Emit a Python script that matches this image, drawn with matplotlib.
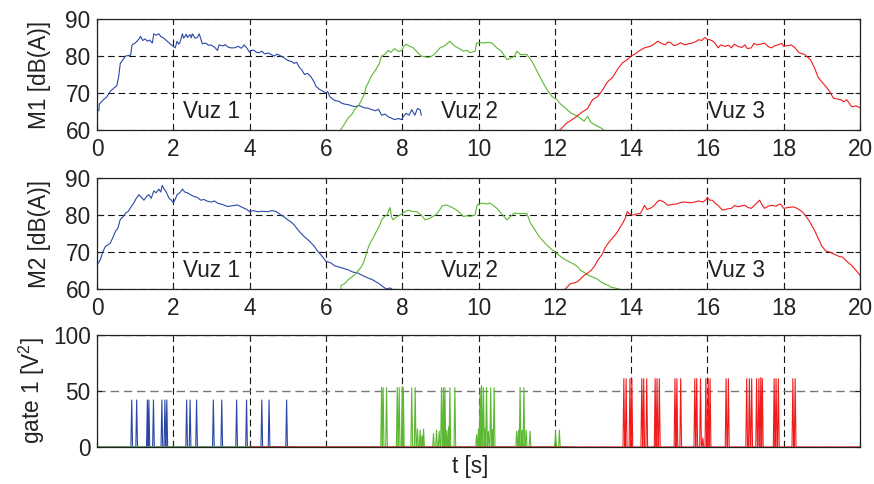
import numpy as np
import matplotlib
matplotlib.use("Agg")
import matplotlib.pyplot as plt

plt.rcParams['font.family'] = ['Liberation Sans', 'DejaVu Sans']
plt.rcParams['mathtext.fontset'] = 'custom'
plt.rcParams['mathtext.rm'] = 'Liberation Sans'
plt.rcParams['mathtext.it'] = 'Liberation Sans'

# ---------------- data (t [s], level) ----------------
m1_vuz1 = [(0, 65), (0.05, 65.3), (0.06, 67), (0.15, 68), (0.26, 69), (0.35, 70.5), (0.44, 71.3), (0.52, 72),
           (0.57, 74.5), (0.61, 78), (0.68, 79), (0.75, 80), (0.88, 80.2), (0.92, 83), (1.0, 83.5), (1.05, 84),
           (1.1, 84.6), (1.14, 85.3), (1.2, 84.2), (1.26, 84.6), (1.32, 84), (1.38, 84.3), (1.45, 83.5),
           (1.49, 86), (1.55, 85.6), (1.62, 86), (1.67, 85.3), (1.75, 84.8), (1.84, 84), (1.95, 83), (2.0, 82.6),
           (2.05, 82.2), (2.1, 84), (2.14, 83.2), (2.17, 83.5), (2.24, 86), (2.27, 84.8), (2.3, 85.2), (2.34, 85.9),
           (2.37, 85), (2.44, 85.8), (2.47, 84.9), (2.5, 86), (2.57, 84.8), (2.63, 85), (2.68, 86), (2.76, 83.3),
           (2.85, 83.5), (2.92, 82.9), (2.98, 83), (3.08, 82.4), (3.16, 81.5), (3.2, 83), (3.3, 82.7),
           (3.36, 83.1), (3.42, 82.5), (3.5, 82.2), (3.6, 82.2), (3.7, 82.6), (3.78, 82.1), (3.86, 83),
           (3.93, 82.1), (4.0, 81), (4.06, 81.6), (4.12, 81.5), (4.18, 81), (4.25, 80.9), (4.32, 81.3),
           (4.39, 80.6), (4.5, 80.8), (4.58, 80.3), (4.65, 80), (4.72, 80.5), (4.82, 80), (4.9, 79.5), (5.0, 78.8),
           (5.1, 78.5), (5.17, 78), (5.23, 78.3), (5.3, 77), (5.37, 76.2), (5.44, 75), (5.52, 75.3), (5.6, 74.5),
           (5.68, 73.2), (5.74, 71.8), (5.83, 71), (5.9, 70.6), (6.0, 70), (6.05, 70.4), (6.1, 69), (6.23, 68),
           (6.35, 67.7), (6.42, 67.2), (6.49, 67), (6.6, 66.8), (6.75, 66.3), (6.88, 66.6), (7.0, 66),
           (7.1, 65.9), (7.2, 65.5), (7.3, 65.2), (7.38, 65.6), (7.46, 64), (7.55, 64.3), (7.63, 63.6),
           (7.72, 63.2), (7.8, 62.8), (7.9, 63.1), (7.98, 62.8), (8.02, 63.5), (8.1, 64.5), (8.18, 64),
           (8.25, 65.5), (8.33, 64), (8.4, 65.8), (8.47, 65.5), (8.5, 64)]

m1_vuz2 = [(6.36, 59.7), (6.45, 61), (6.58, 63.2), (6.68, 64.2), (6.75, 65.5), (6.85, 66.5), (6.93, 68), (7.0, 69.5),
           (7.06, 71.8), (7.12, 73), (7.19, 74.5), (7.32, 76.5), (7.4, 78), (7.46, 80), (7.55, 80.5), (7.63, 81.5),
           (7.7, 81), (7.8, 82), (7.9, 81.2), (7.98, 81.5), (8.04, 82.5), (8.1, 83.2), (8.2, 82.6), (8.28, 82.3),
           (8.4, 81), (8.5, 80), (8.6, 79.8), (8.68, 79.6), (8.78, 80), (8.86, 80.6), (8.99, 82.2), (9.12, 82.8),
           (9.25, 84), (9.32, 83.2), (9.39, 82.6), (9.5, 82), (9.6, 81.3), (9.7, 81.5), (9.78, 80.9), (9.91, 81.3),
           (9.95, 83.5), (10.05, 83.6), (10.13, 83.5), (10.25, 83.7), (10.35, 83.5), (10.48, 82.2), (10.6, 81.3),
           (10.68, 80), (10.75, 79), (10.88, 79.6), (10.95, 80), (11.0, 81.3), (11.1, 80.4), (11.27, 80.4),
           (11.4, 78.6), (11.53, 76), (11.66, 73.4), (11.8, 70.8), (11.93, 69), (12.06, 68.2), (12.15, 67),
           (12.24, 66.3), (12.42, 64.6), (12.6, 63.7), (12.77, 62.4), (12.86, 63.7), (12.95, 62), (13.12, 61),
           (13.22, 60.5), (13.3, 59.8)]

m1_vuz3 = [(11.98, 59.8), (12.14, 60), (12.3, 61.8), (12.5, 63.1), (12.68, 64.6), (12.86, 65.8), (12.99, 68.2),
           (13.12, 69), (13.25, 70.8), (13.38, 73), (13.52, 74.3), (13.65, 76.5), (13.78, 78.2), (13.9, 79),
           (14.0, 80), (14.1, 80.5), (14.2, 81.3), (14.35, 82.2), (14.5, 82.6), (14.6, 83.2), (14.7, 84),
           (14.8, 83.4), (14.9, 83), (14.97, 83.8), (15.05, 83.5), (15.12, 82.8), (15.2, 83), (15.3, 83.6),
           (15.4, 83), (15.5, 83.3), (15.6, 83.5), (15.7, 83.9), (15.77, 84.4), (15.85, 84.2), (15.93, 85),
           (16.0, 84.5), (16.06, 84.4), (16.13, 84.1), (16.2, 83.5), (16.28, 82.2), (16.35, 83), (16.46, 82.6),
           (16.55, 82.9), (16.63, 82.2), (16.7, 83.2), (16.8, 82.6), (16.9, 82.3), (16.98, 83), (17.05, 82),
           (17.15, 82.2), (17.22, 83.4), (17.3, 83), (17.4, 83.2), (17.5, 83.5), (17.6, 82.5), (17.68, 82.2),
           (17.77, 82.8), (17.85, 83), (17.95, 83.4), (18.0, 82.6), (18.1, 82.8), (18.2, 83), (18.3, 82.2),
           (18.4, 80.9), (18.55, 80.4), (18.7, 79), (18.8, 77), (18.9, 74.3), (19.0, 73), (19.1, 71.8),
           (19.2, 70.5), (19.3, 68.6), (19.4, 68.4), (19.5, 68.2), (19.58, 67.6), (19.65, 68.2), (19.78, 66.3),
           (19.9, 66.5), (20.0, 66)]

m2_vuz1 = [(0, 66.5), (0.09, 68), (0.15, 70), (0.22, 71.5), (0.3, 72), (0.35, 72.4), (0.42, 74), (0.48, 75.5),
           (0.55, 76.5), (0.61, 78.8), (0.68, 79.5), (0.75, 80.5), (0.82, 81), (0.88, 82), (0.96, 83.2),
           (1.03, 84.5), (1.1, 85.5), (1.16, 84.8), (1.23, 84), (1.3, 85), (1.36, 85.5), (1.42, 84.5),
           (1.49, 86.5), (1.55, 86), (1.62, 87), (1.67, 86.2), (1.71, 88), (1.76, 87), (1.8, 86.5), (1.89, 84.5),
           (1.95, 84), (2.0, 83.3), (2.05, 84.2), (2.1, 85.5), (2.17, 86), (2.24, 87), (2.3, 86.2), (2.37, 86),
           (2.45, 85.5), (2.54, 85), (2.62, 84.8), (2.72, 84), (2.8, 84.2), (2.9, 83.7), (3.0, 83.5), (3.08, 83.8),
           (3.16, 83.2), (3.3, 82.8), (3.42, 82.3), (3.55, 82.5), (3.68, 82.7), (3.78, 82.2), (3.86, 81.8),
           (3.93, 81.5), (4.0, 80.9), (4.1, 81.2), (4.2, 80.9), (4.35, 81), (4.47, 80.9), (4.6, 81.2), (4.7, 80.9),
           (4.76, 80.5), (4.82, 80), (4.9, 79.5), (5.0, 78.7), (5.1, 78), (5.17, 77.3), (5.25, 76.2), (5.35, 75),
           (5.45, 74), (5.53, 73.3), (5.62, 72.4), (5.7, 71.5), (5.77, 70.4), (5.83, 69.7), (5.92, 68.6),
           (6.0, 67.5), (6.07, 67.3), (6.14, 67), (6.22, 66.3), (6.32, 66), (6.45, 65.6), (6.58, 65.2),
           (6.7, 64.6), (6.84, 64.3), (6.95, 63.7), (7.1, 63), (7.22, 62.5), (7.37, 61.6), (7.45, 61),
           (7.54, 60.3), (7.6, 60), (7.68, 60.3), (7.76, 59.8), (7.85, 59.4)]

m2_vuz2 = [(6.39, 59.8), (6.4, 61), (6.5, 61.5), (6.58, 62.5), (6.65, 63), (6.75, 63.8), (6.85, 65), (6.93, 66),
           (7.0, 67.5), (7.06, 69.6), (7.12, 71.5), (7.19, 73), (7.25, 74), (7.32, 75.5), (7.4, 77), (7.46, 78.7),
           (7.53, 79.5), (7.6, 80), (7.68, 82), (7.72, 79.5), (7.76, 78.7), (7.85, 79.5), (7.94, 80), (8.05, 80.8),
           (8.16, 81.3), (8.25, 81), (8.38, 80.9), (8.5, 80), (8.6, 78.7), (8.7, 79), (8.8, 79.6), (8.9, 80.2),
           (8.99, 81.5), (9.05, 82.5), (9.17, 82.7), (9.25, 82.3), (9.35, 81.8), (9.43, 81.3), (9.52, 80.5),
           (9.6, 79.6), (9.7, 79.8), (9.78, 79.6), (9.91, 80), (9.96, 82.5), (10.0, 83), (10.1, 83.2),
           (10.22, 83), (10.3, 83.2), (10.4, 82.5), (10.48, 81.8), (10.6, 80.4), (10.68, 79.5), (10.75, 78.7),
           (10.82, 79.4), (10.88, 80), (10.95, 80.6), (11.0, 80.4), (11.1, 80.4), (11.27, 80.4), (11.36, 77.8),
           (11.45, 76.5), (11.53, 75.1), (11.6, 74), (11.7, 72.9), (11.8, 71.8), (11.96, 70.3), (12.1, 69.2),
           (12.24, 68.1), (12.35, 67.5), (12.5, 66.7), (12.6, 66), (12.68, 65), (12.8, 64.3), (12.9, 63.6),
           (13.0, 63.2), (13.1, 62.8), (13.2, 62), (13.3, 61.4), (13.4, 61), (13.47, 60.5), (13.6, 60.2),
           (13.74, 59.8)]

m2_vuz3 = [(12.24, 59.6), (12.32, 60.5), (12.42, 61.5), (12.5, 61.6), (12.6, 62), (12.68, 62.8), (12.77, 63.7),
           (12.85, 64.2), (12.95, 65), (13.05, 66.3), (13.12, 67.7), (13.18, 68.5), (13.25, 69.5), (13.3, 70.8),
           (13.38, 72.1), (13.45, 73), (13.52, 73.9), (13.6, 74.8), (13.65, 75.6), (13.72, 76.8), (13.78, 77.8),
           (13.85, 79.2), (13.9, 80.9), (13.97, 80.2), (14.06, 80), (14.15, 80.3), (14.24, 80.4), (14.3, 81.5),
           (14.35, 82.6), (14.42, 81.5), (14.5, 81.8), (14.6, 82.5), (14.68, 83.5), (14.74, 84), (14.85, 83.6),
           (14.96, 82.6), (15.05, 82.8), (15.2, 83), (15.3, 83.4), (15.4, 83.5), (15.55, 83.3), (15.66, 83.5),
           (15.77, 83.8), (15.88, 83.5), (15.95, 84), (16.0, 84.8), (16.06, 84), (16.13, 84), (16.2, 83.2),
           (16.28, 82.6), (16.35, 81.8), (16.4, 81.3), (16.5, 81.6), (16.63, 81.8), (16.72, 82.6), (16.8, 82.2),
           (16.9, 82.5), (16.98, 82.6), (17.07, 82), (17.15, 81.8), (17.25, 82.8), (17.37, 84), (17.43, 82.8),
           (17.5, 81.8), (17.6, 82.4), (17.68, 82.6), (17.8, 82.4), (17.9, 83), (17.95, 82.6), (18.0, 81.8),
           (18.1, 82), (18.25, 82.2), (18.35, 81.8), (18.48, 80.9), (18.56, 80), (18.65, 78.7), (18.73, 77.3),
           (18.82, 75.6), (18.9, 73.8), (19.0, 71.6), (19.1, 70.3), (19.2, 70), (19.33, 69.4), (19.45, 68.8),
           (19.55, 68.6), (19.65, 67.5), (19.78, 66.4), (19.9, 65), (20.0, 63.7)]

# gate signal: spike times [s] and spike heights [V^2]
gate1_spikes = [0.91, 1.04, 1.32, 1.36, 1.48, 1.70, 1.78, 1.83, 2.35, 2.44, 2.61, 3.05, 3.27, 3.66,
                3.92, 4.32, 4.51, 4.97]
gate1_heights = [42] * 18
gate1_span = (0.0, 5.2)

gate2_spikes = [7.46, 7.50, 7.59, 7.87, 7.92, 8.00, 8.03, 8.25, 8.34, 8.40, 8.47, 8.52, 8.56, 8.82, 8.90,
                8.97, 9.03, 9.08, 9.12, 9.17, 9.22, 9.25, 9.38, 9.95, 10.00, 10.04, 10.08, 10.13, 10.17,
                10.21, 10.26, 10.32, 10.36, 10.41, 11.00, 11.05, 11.09, 11.14, 11.19, 11.25, 11.35,
                12.02, 12.12]
gate2_heights = [53, 53, 53, 53, 53, 54, 53, 53, 53, 16, 15, 10, 16, 12, 15,
                 14, 53, 53, 53, 15, 18, 53, 53, 11, 16, 53, 55, 53, 16,
                 53, 14, 53, 16, 53, 14, 15, 53, 15, 53, 15, 14,
                 14, 15]
gate2_span = (0.0, 12.5)

gate3_spikes = [13.81, 13.87, 13.97, 14.02, 14.28, 14.33, 14.41, 14.63, 14.68, 14.74, 15.15, 15.20,
                15.30, 15.67, 15.72, 15.82, 15.88, 15.96, 16.02, 16.07, 16.49, 16.55, 17.03, 17.10,
                17.16, 17.29, 17.35, 17.40, 17.44, 17.75, 17.80, 17.86, 18.24, 18.30]
gate3_heights = [61, 61, 61, 61, 61, 61, 61, 61, 61, 61, 61, 61,
                 61, 61, 61, 61, 8, 61, 61, 61, 61, 61, 61, 61,
                 61, 61, 61, 62, 61, 61, 61, 61, 61, 61]
gate3_span = (4.0, 20.0)

labels = ["Vuz 1", "Vuz 2", "Vuz 3"]
label_t = [3.0, 9.75, 16.75]

BLUE = '#2a48a6'
GREEN = '#5cb833'
RED = '#f01c1c'
colors = [BLUE, GREEN, RED]
TXT = '#222222'


def pulses(spikes, heights, span, w=0.022):
    t = [span[0]]
    v = [0.0]
    for s, h in zip(spikes, heights):
        t += [s - w, s, s + w]
        v += [0.0, h, 0.0]
    t.append(span[1])
    v.append(0.0)
    return np.array(t), np.array(v)


fig = plt.figure(figsize=(8.74, 4.84), dpi=100)
L, W = 97 / 874, 763 / 874
ax1 = fig.add_axes([L, 1 - 130 / 484, W, 111 / 484])
ax2 = fig.add_axes([L, 1 - 289 / 484, W, 111 / 484])
ax3 = fig.add_axes([L, 1 - 447 / 484, W, 112 / 484])

FS = 16.3
grid_ls = (0, (6, 3.5))


def style(ax):
    ax.set_xlim(0, 20)
    ax.set_xticks(np.arange(0, 21, 2))
    ax.tick_params(direction='in', top=True, right=True, length=3.5, width=0.8,
                   labelsize=FS, colors=TXT)
    ax.tick_params(axis='x', pad=5.5)
    ax.tick_params(axis='y', pad=4.5)
    for sp in ax.spines.values():
        sp.set_linewidth(0.9)
        sp.set_color(TXT)
    ax.set_axisbelow(True)


for ax, series, name in [(ax1, [m1_vuz1, m1_vuz2, m1_vuz3], "M1 [dB(A)]"),
                         (ax2, [m2_vuz1, m2_vuz2, m2_vuz3], "M2 [dB(A)]")]:
    for s, c in zip(series, colors):
        arr = np.array(s).T
        ax.plot(arr[0], arr[1], color=c, lw=0.8)
    style(ax)
    ax.set_ylim(60, 90)
    ax.set_yticks([60, 70, 80, 90])
    ax.grid(True, color='#111111', linestyle=grid_ls, linewidth=0.8)
    ax.set_ylabel(name, fontsize=FS, color=TXT, va='center')
    ax.yaxis.set_label_coords(-0.075, 0.5)
    for lab, lt in zip(labels, label_t):
        ax.text(lt, 65, lab, fontsize=FS, ha='center', va='center', color=TXT)

for spk, hts, span, c in [(gate1_spikes, gate1_heights, gate1_span, BLUE),
                          (gate2_spikes, gate2_heights, gate2_span, GREEN),
                          (gate3_spikes, gate3_heights, gate3_span, RED)]:
    t, v = pulses(spk, hts, span)
    ax3.plot(t, v, color=c, lw=0.8)
style(ax3)
ax3.set_ylim(0, 100)
ax3.set_yticks([0, 50, 100])
ax3.set_xticklabels([])
ax3.xaxis.grid(True, color='#111111', linestyle=grid_ls, linewidth=0.8)
ax3.yaxis.grid(True, color='#777777', linestyle=grid_ls, linewidth=1.0)
ax3.set_ylabel("gate 1 [V$^2$]", fontsize=FS, color=TXT, va='center')
ax3.yaxis.set_label_coords(-0.085, 0.5)

fig.text(470 / 874, 1 - 467 / 484, "t [s]", fontsize=FS, ha='center', va='center', color=TXT)

fig.savefig("out.png", dpi=100)
